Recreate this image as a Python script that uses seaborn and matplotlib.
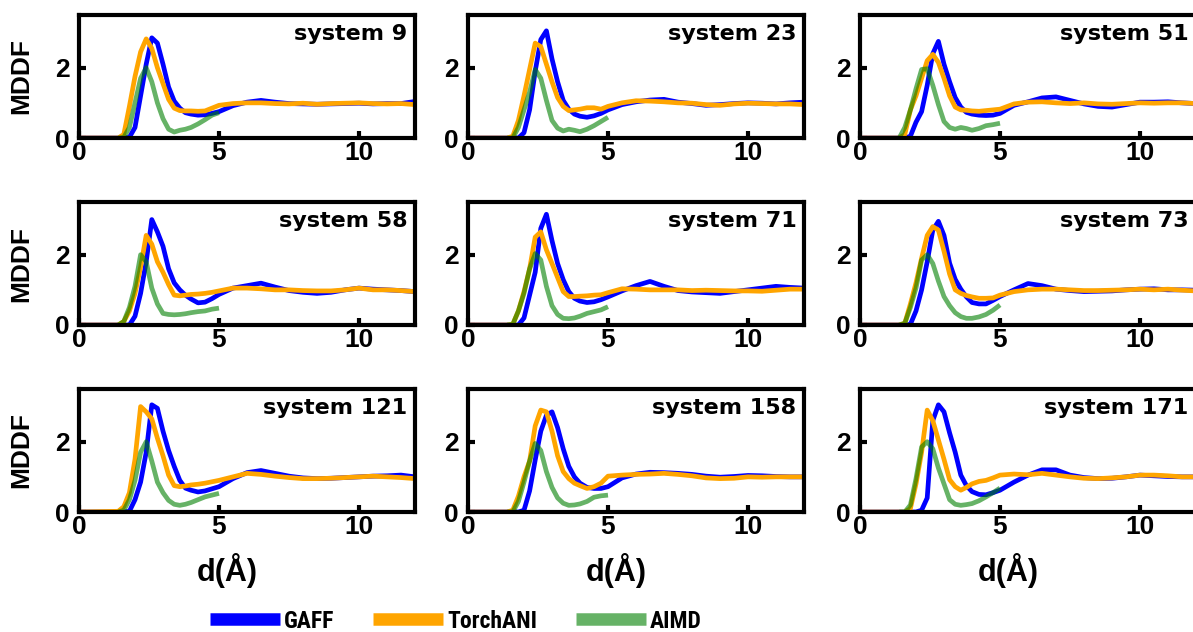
import matplotlib
matplotlib.use("Agg")
import matplotlib.pyplot as plt
import seaborn as sns

# ---------------- data ----------------
systems = ["system 9", "system 23", "system 51",
           "system 58", "system 71", "system 73",
           "system 121", "system 158", "system 171"]

x_md = [0, 1.4, 1.6, 1.8, 2.0, 2.2, 2.4, 2.6, 2.8, 3.0, 3.2, 3.4, 3.6, 3.8,
        4.0, 4.25, 4.5, 4.75, 5.0, 5.5, 6.0, 6.5, 7.0, 7.5, 8.0, 8.5, 9.0,
        9.5, 10.0, 10.5, 11.0, 11.5, 12.0]
x_aimd = [1.4, 1.6, 1.8, 2.0, 2.2, 2.4, 2.6, 2.8, 3.0, 3.2, 3.4, 3.6, 3.8,
          4.0, 4.25, 4.5, 4.75, 5.0]

gaff_9 = [0, 0, 0, 0.02, 0.3, 1.2, 2.1, 2.85, 2.7, 2.1, 1.45, 1.05, 0.85, 0.72, 0.68, 0.65, 0.66, 0.7, 0.75,
          0.92, 1.02, 1.07, 1.02, 0.98, 0.97, 0.96, 0.97, 0.98, 0.99, 0.97, 0.98, 0.98, 1.04]
torch_9 = [0, 0, 0.1, 0.9, 1.75, 2.45, 2.82, 2.55, 2.0, 1.55, 1.1, 0.85, 0.78, 0.77, 0.77, 0.76, 0.77, 0.85, 0.93,
           0.98, 1.0, 1.0, 0.98, 0.97, 0.99, 0.96, 0.98, 0.99, 1.0, 0.98, 0.97, 0.98, 0.95]
aimd_9 = [0, 0.02, 0.3, 1.0, 1.7, 2.0, 1.6, 1.0, 0.55, 0.25, 0.17, 0.22, 0.25, 0.3, 0.4, 0.52, 0.65, 0.72]

gaff_23 = [0, 0, 0, 0, 0.15, 0.8, 1.9, 2.8, 3.05, 2.25, 1.6, 1.07, 0.82, 0.68, 0.62, 0.59, 0.63, 0.7, 0.8,
           0.95, 1.03, 1.08, 1.1, 1.02, 0.98, 0.93, 0.95, 0.98, 1.0, 0.99, 0.97, 1.0, 1.02]
torch_23 = [0, 0, 0.05, 0.5, 1.2, 1.95, 2.7, 2.6, 2.1, 1.6, 1.15, 0.9, 0.78, 0.8, 0.82, 0.86, 0.86, 0.82, 0.9,
            1.0, 1.06, 1.05, 1.03, 1.0, 0.99, 0.95, 0.93, 0.97, 0.99, 0.98, 0.97, 0.97, 0.95]
aimd_23 = [0, 0, 0.3, 0.8, 1.3, 1.95, 1.7, 1.07, 0.5, 0.28, 0.2, 0.25, 0.22, 0.18, 0.25, 0.35, 0.47, 0.59]

gaff_51 = [0, 0, 0, 0.05, 0.45, 0.75, 1.5, 2.4, 2.75, 2.1, 1.6, 1.15, 0.88, 0.73, 0.68, 0.65, 0.64, 0.65, 0.7,
           0.93, 1.03, 1.14, 1.17, 1.07, 0.97, 0.9, 0.88, 0.95, 1.02, 1.02, 1.03, 1.0, 0.98]
torch_51 = [0, 0, 0.1, 0.8, 1.2, 1.7, 2.2, 2.38, 2.15, 1.7, 1.2, 0.88, 0.8, 0.79, 0.77, 0.76, 0.78, 0.8, 0.82,
            0.97, 1.02, 1.03, 1.0, 0.98, 1.0, 0.97, 0.96, 0.98, 1.0, 0.99, 1.0, 1.0, 0.98]
aimd_51 = [0, 0.3, 0.8, 1.4, 1.95, 1.97, 1.5, 0.95, 0.47, 0.3, 0.25, 0.3, 0.27, 0.22, 0.27, 0.35, 0.38, 0.42]

gaff_58 = [0, 0, 0, 0, 0.25, 0.9, 1.8, 3.0, 2.65, 2.24, 1.6, 1.2, 1.0, 0.85, 0.74, 0.63, 0.65, 0.75, 0.87,
           1.05, 1.12, 1.19, 1.08, 0.98, 0.93, 0.9, 0.93, 1.0, 1.05, 1.02, 1.0, 0.98, 0.95]
torch_58 = [0, 0, 0.1, 0.4, 0.9, 1.65, 2.55, 2.3, 1.8, 1.5, 1.15, 0.85, 0.83, 0.85, 0.87, 0.88, 0.9, 0.93, 0.97,
            1.05, 1.05, 1.03, 1.0, 1.0, 0.98, 0.97, 0.97, 1.0, 1.05, 1.0, 1.0, 0.98, 0.95]
aimd_58 = [0, 0.1, 0.5, 1.1, 2.0, 1.8, 1.05, 0.6, 0.33, 0.3, 0.29, 0.3, 0.32, 0.35, 0.38, 0.4, 0.45, 0.48]

gaff_71 = [0, 0, 0, 0, 0.2, 0.85, 1.5, 2.75, 3.15, 2.4, 1.75, 1.29, 0.95, 0.76, 0.68, 0.64, 0.66, 0.72, 0.8,
           0.97, 1.12, 1.24, 1.1, 0.98, 0.94, 0.92, 0.9, 0.95, 1.0, 1.05, 1.1, 1.07, 1.05]
torch_71 = [0, 0, 0.02, 0.4, 0.95, 1.6, 2.5, 2.65, 2.14, 1.75, 1.35, 0.95, 0.81, 0.81, 0.82, 0.83, 0.85, 0.86, 0.92,
            1.03, 1.02, 1.0, 1.0, 1.0, 0.98, 0.99, 0.98, 0.97, 0.97, 0.96, 0.99, 1.02, 1.02]
aimd_71 = [0, 0.02, 0.4, 0.9, 1.6, 2.03, 1.85, 1.1, 0.55, 0.3, 0.19, 0.18, 0.2, 0.25, 0.33, 0.38, 0.43, 0.52]

gaff_73 = [0, 0, 0, 0.02, 0.4, 1.0, 1.8, 2.7, 2.95, 2.55, 1.76, 1.3, 1.02, 0.8, 0.64, 0.6, 0.6, 0.7, 0.81,
           1.0, 1.18, 1.12, 1.02, 0.98, 0.95, 0.96, 0.97, 1.0, 1.02, 1.03, 1.0, 1.0, 0.99]
torch_73 = [0, 0, 0.05, 0.6, 1.2, 1.9, 2.55, 2.8, 2.7, 2.1, 1.45, 1.0, 0.9, 0.84, 0.8, 0.76, 0.76, 0.77, 0.85,
            0.95, 1.0, 1.02, 1.02, 1.0, 0.98, 0.98, 0.99, 1.0, 1.02, 1.0, 1.02, 0.99, 0.97]
aimd_73 = [0, 0.05, 0.5, 1.05, 1.85, 2.0, 1.75, 1.25, 0.81, 0.55, 0.35, 0.24, 0.19, 0.19, 0.23, 0.3, 0.42, 0.57]

gaff_121 = [0, 0, 0, 0.02, 0.35, 0.85, 1.7, 3.05, 2.95, 2.3, 1.75, 1.3, 0.9, 0.68, 0.62, 0.57, 0.6, 0.66, 0.72,
            0.95, 1.12, 1.18, 1.1, 1.02, 0.97, 0.95, 0.96, 0.98, 1.0, 1.02, 1.03, 1.05, 1.0]
torch_121 = [0, 0.02, 0.15, 0.55, 1.5, 3.0, 2.85, 2.65, 2.1, 1.6, 1.05, 0.75, 0.72, 0.74, 0.77, 0.79, 0.82, 0.86, 0.9,
             1.0, 1.1, 1.07, 1.02, 0.98, 0.95, 0.95, 0.96, 0.98, 1.0, 1.02, 1.0, 0.98, 0.95]
aimd_121 = [0, 0.05, 0.35, 0.9, 1.7, 2.0, 1.45, 0.85, 0.55, 0.33, 0.22, 0.19, 0.22, 0.27, 0.35, 0.43, 0.48, 0.53]

gaff_158 = [0, 0, 0, 0, 0.05, 0.6, 1.48, 2.3, 2.75, 2.85, 2.4, 1.8, 1.3, 1.0, 0.82, 0.7, 0.67, 0.67, 0.72,
            0.97, 1.08, 1.13, 1.12, 1.1, 1.07, 1.02, 0.99, 1.01, 1.04, 1.03, 1.01, 1.0, 1.0]
torch_158 = [0, 0, 0.05, 0.45, 1.0, 1.45, 2.45, 2.9, 2.85, 2.3, 1.6, 1.15, 0.95, 0.82, 0.75, 0.67, 0.72, 0.82, 1.02,
             1.05, 1.07, 1.08, 1.1, 1.07, 1.03, 0.97, 0.95, 0.96, 1.0, 0.99, 1.0, 1.0, 1.0]
aimd_158 = [0, 0, 0.3, 0.85, 1.45, 1.95, 1.75, 1.15, 0.7, 0.4, 0.25, 0.19, 0.2, 0.23, 0.3, 0.42, 0.46, 0.48]

gaff_171 = [0, 0, 0, 0, 0, 0.05, 0.4, 2.6, 3.05, 2.85, 2.25, 1.7, 1.05, 0.75, 0.58, 0.5, 0.49, 0.55, 0.62,
            0.85, 1.05, 1.2, 1.2, 1.05, 0.98, 0.95, 0.96, 1.0, 1.05, 1.03, 1.01, 1.0, 1.0]
torch_171 = [0, 0, 0, 0.1, 0.8, 1.7, 2.9, 2.6, 2.05, 1.5, 0.92, 0.72, 0.62, 0.7, 0.8, 0.87, 0.9, 0.97, 1.05,
             1.08, 1.06, 1.1, 1.05, 1.0, 0.96, 0.95, 0.97, 1.0, 1.05, 1.05, 1.03, 1.0, 1.0]
aimd_171 = [0, 0, 0.2, 0.95, 1.85, 2.0, 1.8, 1.25, 0.8, 0.35, 0.22, 0.19, 0.21, 0.24, 0.32, 0.43, 0.55, 0.68]

gaff_all = [gaff_9, gaff_23, gaff_51, gaff_58, gaff_71, gaff_73, gaff_121, gaff_158, gaff_171]
torch_all = [torch_9, torch_23, torch_51, torch_58, torch_71, torch_73, torch_121, torch_158, torch_171]
aimd_all = [aimd_9, aimd_23, aimd_51, aimd_58, aimd_71, aimd_73, aimd_121, aimd_158, aimd_171]

series_names = ["GAFF", "TorchANI", "AIMD"]
x_ticks = [0, 5, 10]
y_ticks = [0, 2]

# ---------------- figure ----------------
sns.set_style("ticks")
plt.rcParams["font.family"] = ["Liberation Sans", "DejaVu Sans"]
plt.rcParams["font.weight"] = "bold"
for key in ["text.color", "axes.labelcolor", "xtick.color", "ytick.color", "axes.edgecolor"]:
    plt.rcParams[key] = "black"
plt.rcParams["lines.solid_capstyle"] = "butt"

W, H = 1193, 632
fig = plt.figure(figsize=(W / 100, H / 100), dpi=100)

col_left = [79, 468, 860]
col_w = 336
row_top = [15, 202, 389]
row_h = 123

axes = []
for i in range(9):
    r, c = divmod(i, 3)
    ax = fig.add_axes([col_left[c] / W, (H - row_top[r] - row_h) / H, col_w / W, row_h / H])
    axes.append(ax)

    sns.lineplot(x=x_md, y=gaff_all[i], ax=ax, color="blue", linewidth=3.4, label=series_names[0])
    sns.lineplot(x=x_md, y=torch_all[i], ax=ax, color="orange", linewidth=3.4, label=series_names[1])
    sns.lineplot(x=x_aimd, y=aimd_all[i], ax=ax, color="green", alpha=0.6, linewidth=3.4, label=series_names[2])
    if ax.get_legend() is not None:
        ax.get_legend().remove()

    ax.set_xlim(0, 12)
    ax.set_ylim(0, 3.5)
    ax.set_xticks(x_ticks)
    ax.set_yticks(y_ticks)
    for s in ax.spines.values():
        s.set_linewidth(3)
        s.set_color("black")
        s.set_visible(True)
    ax.tick_params(axis="both", direction="in", length=5, width=3, labelsize=19,
                   top=False, right=False, colors="black")
    ax.tick_params(axis="x", pad=2)
    ax.tick_params(axis="y", pad=7)
    for lab in ax.get_xticklabels() + ax.get_yticklabels():
        lab.set_fontweight("bold")

    ax.text(0.978, 0.93, systems[i], transform=ax.transAxes, ha="right", va="top",
            fontsize=16, fontweight="bold", family=["DejaVu Sans"], color="black")

    if c == 0:
        ax.set_ylabel("MDDF", fontsize=19, fontweight="bold", color="black")
        ax.yaxis.set_label_coords(-0.135, 0.5)
    else:
        ax.set_ylabel("")
    if r == 2:
        ax.set_xlabel("d(Å)", fontsize=22, fontweight="bold", color="black")
        ax.xaxis.set_label_coords(0.44, -0.33)
    else:
        ax.set_xlabel("")

handles, labels = axes[0].get_legend_handles_labels()
leg = fig.legend(handles, labels, loc="center", bbox_to_anchor=(456 / W, (H - 621) / H),
                 ncol=3, frameon=False, handlelength=2.96, handletextpad=0.17,
                 columnspacing=1.65,
                 prop={"family": ["Roboto Condensed", "Liberation Sans"], "weight": "bold", "size": 17})
for ln in leg.get_lines():
    ln.set_linewidth(9)
    ln.set_solid_capstyle("butt")

fig.savefig("out.png", dpi=100)
